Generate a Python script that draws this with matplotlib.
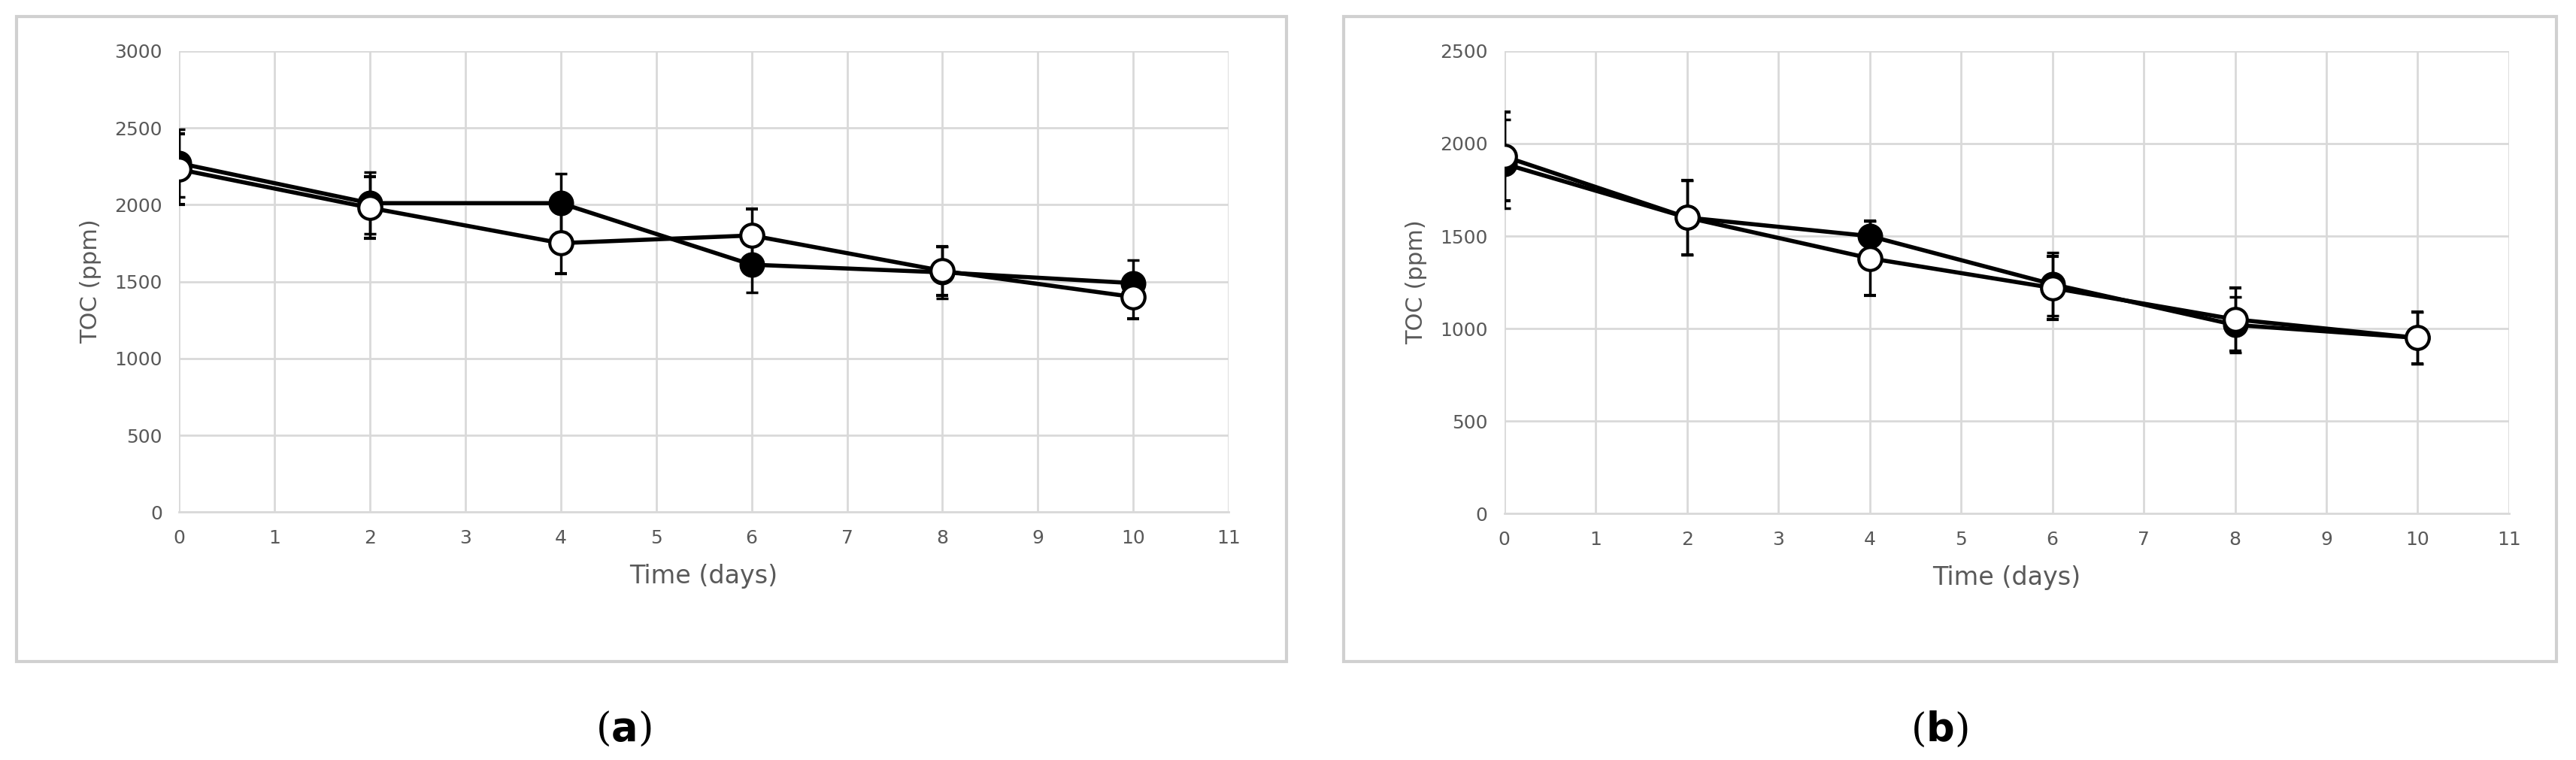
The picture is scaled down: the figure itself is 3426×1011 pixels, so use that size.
import matplotlib
matplotlib.use("Agg")
import matplotlib.pyplot as plt
from matplotlib.patches import Rectangle

days = [0, 2, 4, 6, 8, 10]
a_filled = [2270, 2010, 2010, 1610, 1560, 1490]
a_filled_err = [220, 200, 190, 180, 170, 150]
a_open = [2230, 1980, 1750, 1800, 1570, 1400]
a_open_err = [230, 200, 200, 170, 160, 140]
b_filled = [1890, 1600, 1500, 1240, 1020, 950]
b_filled_err = [240, 200, 80, 170, 150, 140]
b_open = [1930, 1600, 1380, 1220, 1050, 950]
b_open_err = [240, 200, 200, 170, 170, 140]
xticks = list(range(12))

fig = plt.figure(figsize=(34.26, 10.11), dpi=100)

def panel(box, axpos, ymax, step, filled, ferr, opn, oerr, letter, lx):
    fig.patches.append(Rectangle((box[0], box[1]), box[2], box[3], transform=fig.transFigure,
                                 fill=False, edgecolor='#d0d0d0', linewidth=3))
    ax = fig.add_axes(axpos)
    ax.set_xlim(0, 11)
    ax.set_ylim(0, ymax)
    ax.set_xticks(xticks)
    ax.set_yticks(range(0, ymax + 1, step))
    ax.grid(True, color='#d9d9d9', linewidth=2)
    ax.set_axisbelow(True)
    for s in ['top', 'right', 'left']:
        ax.spines[s].set_visible(False)
    ax.spines['bottom'].set_color('#d9d9d9')
    ax.spines['bottom'].set_linewidth(2)
    ax.tick_params(length=0, labelsize=18, colors='#595959', pad=16)
    ax.errorbar(days, filled, yerr=ferr, color='black', lw=4, marker='o', ms=22,
                mfc='black', mec='black', mew=2.5, capsize=6, capthick=3, elinewidth=2.5, zorder=3)
    ax.errorbar(days, opn, yerr=oerr, color='black', lw=4, marker='o', ms=22,
                mfc='white', mec='black', mew=3, capsize=6, capthick=3, elinewidth=2.5, zorder=4)
    ax.set_xlabel('Time (days)', fontsize=24, color='#595959', labelpad=16)
    ax.set_ylabel('TOC (ppm)', fontsize=22, color='#595959', labelpad=12)
    fig.text(lx, 0.04, r'($\mathbf{' + letter + '}$)', fontsize=38, ha='center', va='center',
             family='DejaVu Serif')
    return ax

panel((0.0064, 0.13, 0.493, 0.848), [0.0695, 0.326, 0.4075, 0.607], 3000, 500,
      a_filled, a_filled_err, a_open, a_open_err, 'a', 0.242)
panel((0.5217, 0.13, 0.4706, 0.848), [0.584, 0.324, 0.39, 0.609], 2500, 500,
      b_filled, b_filled_err, b_open, b_open_err, 'b', 0.753)

fig.savefig('out.png', dpi=100)
